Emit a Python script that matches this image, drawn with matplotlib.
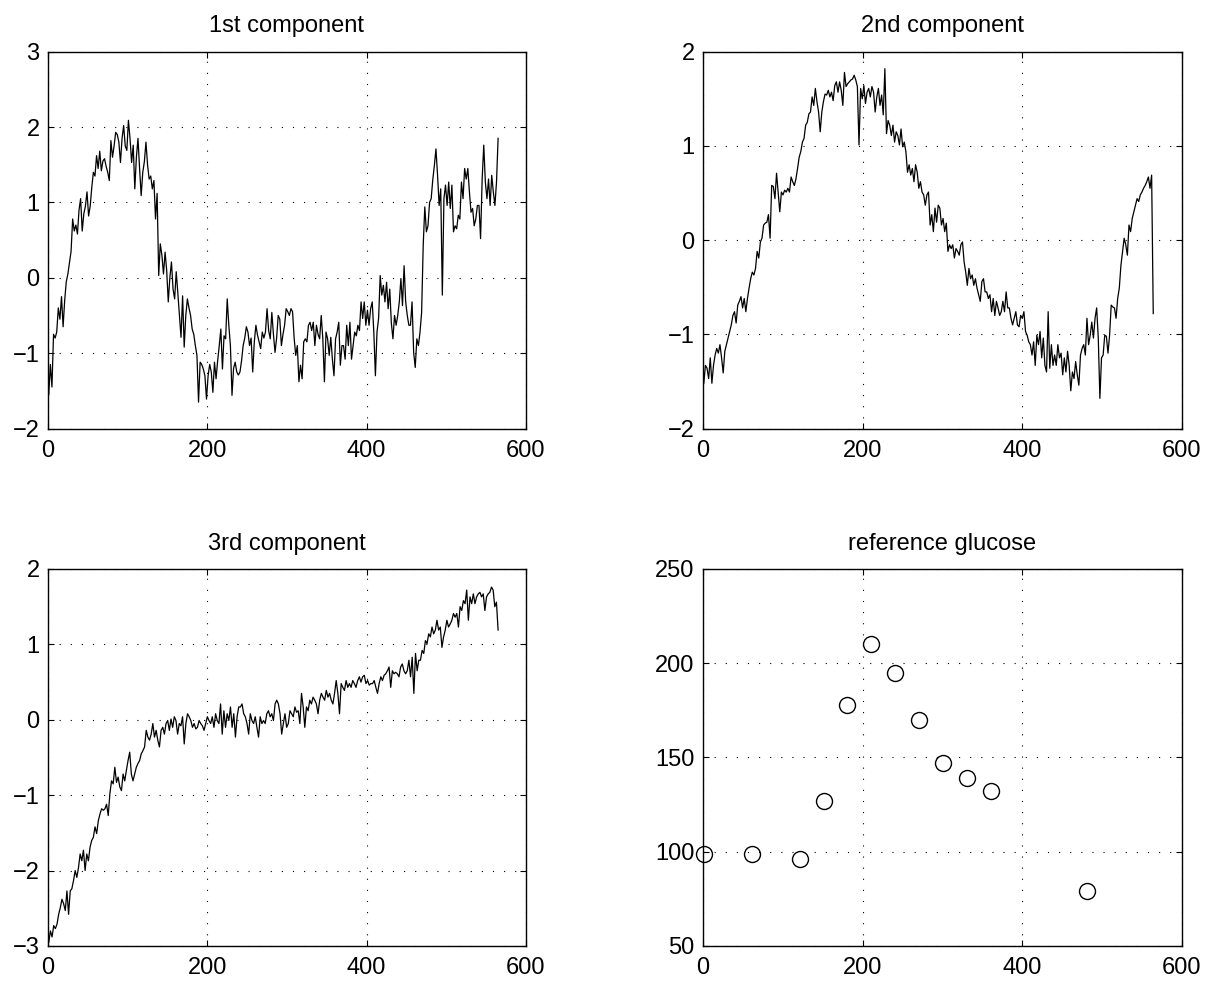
import matplotlib
matplotlib.use('Agg')
from matplotlib import pyplot as plt
import numpy as np

plt.rcParams['font.family'] = ['Liberation Sans', 'DejaVu Sans']
plt.rcParams['font.size'] = 17

# values, spread evenly over the sample index
comp1 = [-1.55, -1.15, -1.45, -0.75, -0.80, -0.72, -0.40, -0.55, -0.25, -0.65,
         -0.30, -0.05, 0.05, 0.20, 0.35, 0.78, 0.62, 0.70, 0.58, 0.90,
         1.05, 0.62, 0.85, 0.95, 1.14, 0.82, 0.95, 1.20, 1.40, 1.35,
         1.62, 1.45, 1.68, 1.42, 1.55, 1.58, 1.48, 1.40, 1.29, 1.82,
         1.60, 1.75, 1.93, 1.90, 1.80, 1.53, 1.85, 2.02, 1.75, 1.69,
         2.09, 1.85, 1.53, 1.76, 1.18, 1.60, 1.85, 1.45, 1.09, 1.40,
         1.54, 1.80, 1.50, 1.31, 1.35, 1.18, 1.29, 0.78, 1.12, 0.03,
         0.45, 0.30, 0.05, 0.34, 0.10, -0.32, 0.00, 0.21, -0.15, -0.28,
         0.08, -0.20, -0.50, -0.79, -0.24, -0.92, -0.50, -0.28, -0.40, -0.50,
         -0.68, -0.75, -0.90, -1.03, -1.65, -1.12, -1.15, -1.21, -1.30, -1.61,
         -1.30, -1.15, -1.25, -1.52, -1.12, -1.34, -1.10, -0.90, -0.68, -1.21,
         -0.77, -0.81, -0.28, -0.63, -0.90, -1.56, -1.20, -1.12, -1.25, -1.29,
         -1.25, -1.10, -0.90, -0.80, -0.65, -0.72, -0.90, -0.80, -1.25, -0.85,
         -0.63, -0.76, -0.85, -0.94, -0.72, -0.80, -0.72, -0.41, -0.70, -0.81,
         -0.46, -0.75, -0.99, -0.80, -0.50, -0.55,
         -0.90, -0.75, -0.63, -0.41, -0.45, -0.50, -0.41, -0.45, -0.80, -1.03,
         -0.90, -1.38, -1.16, -1.34, -0.85, -0.81, -0.85, -0.63, -0.59, -0.70,
         -0.59, -0.90, -0.63, -0.75, -0.81, -0.50, -0.81, -1.38, -0.72, -0.81,
         -1.03, -0.79, -1.08, -1.30, -0.81, -0.72, -0.59, -1.16, -0.90, -0.90,
         -1.08, -0.63, -0.90, -0.59, -1.08, -0.90, -0.72, -0.77, -0.63, -0.70,
         -0.32, -0.54, -0.32, -0.63, -0.43, -0.63, -0.41, -0.32, -0.72, -1.30,
         -0.72, -0.54, 0.03, -0.23, -0.10, -0.32, -0.06, -0.41, -0.15, -0.60,
         -0.81, -0.50, -0.63, -0.50, -0.32, -0.01, -0.37, 0.16, -0.32, -0.50,
         -0.63, -0.63, -0.32, -0.99, -1.19, -0.81, -0.90, -0.72, -0.46, 0.43,
         0.94, 0.61, 0.69, 1.00, 1.05, 1.30, 1.49, 1.71, 1.36, 0.96,
         1.18, -0.23, 1.05, 1.23, 0.96, 1.27, 0.92, 1.23, 0.61, 0.69,
         0.65, 0.83, 0.78, 1.27, 1.05, 1.45, 1.31, 1.45, 1.14, 0.87,
         0.92, 0.69, 0.78, 0.96, 0.96, 0.52, 1.31, 1.76, 1.27, 1.05,
         1.31, 0.96, 1.36, 1.14, 0.96, 1.27, 1.85]

comp2 = [-1.52, -1.33, -1.36, -1.47, -1.25, -1.52, -1.33, -1.22, -1.15, -1.20,
         -1.11, -1.25, -1.41, -1.18, -1.11, -1.04, -0.97, -0.90, -0.80, -0.76,
         -0.88, -0.69, -0.65, -0.60, -0.72, -0.62, -0.76, -0.62, -0.51, -0.41,
         -0.34, -0.37, -0.30, -0.12, -0.19, -0.02, 0.02, 0.16, 0.18, 0.19,
         0.27, 0.02, 0.58, 0.57, 0.44, 0.71, 0.51, 0.30, 0.51, 0.48,
         0.53, 0.51, 0.55, 0.51, 0.67, 0.62, 0.58, 0.65, 0.76, 0.88,
         0.94, 1.04, 1.08, 1.22, 1.25, 1.34, 1.36, 1.52, 1.43, 1.61,
         1.47, 1.36, 1.15, 1.36, 1.47, 1.55, 1.54, 1.59, 1.52, 1.57,
         1.48, 1.64, 1.68, 1.57, 1.68, 1.59, 1.43, 1.78, 1.63, 1.66,
         1.68, 1.70, 1.71, 1.75, 1.70, 1.63, 1.01, 1.61, 1.50, 1.64,
         1.45, 1.57, 1.61, 1.52, 1.63, 1.57, 1.36, 1.52, 1.61, 1.43,
         1.54, 1.33, 1.82, 1.13, 1.27, 1.22, 1.11, 1.22, 1.04, 1.15,
         1.11, 1.01, 1.18, 0.99, 1.04, 0.94, 0.72, 0.80, 0.69, 0.76,
         0.62, 0.80, 0.72, 0.55, 0.62, 0.51, 0.48, 0.37, 0.48, 0.51,
         0.16, 0.27, 0.09, 0.34, 0.19, 0.37, 0.34, 0.16, 0.23, 0.09,
         0.18, -0.12, -0.05,
         -0.09, -0.05, -0.19, -0.09, -0.12, -0.16, -0.05, -0.02, -0.23, -0.34,
         -0.48, -0.30, -0.41, -0.37, -0.48, -0.41, -0.51, -0.58, -0.65, -0.44,
         -0.41, -0.55, -0.55, -0.62, -0.58, -0.76, -0.62, -0.80, -0.65, -0.72,
         -0.80, -0.76, -0.65, -0.76, -0.55, -0.72, -0.72, -0.83, -0.90, -0.83,
         -0.76, -0.90, -0.92, -0.80, -0.83, -0.76, -0.97, -1.01, -1.08, -1.11,
         -1.22, -1.08, -1.33, -1.01, -1.11, -0.97, -1.25, -1.04, -1.33, -1.40,
         -0.76, -1.36, -1.11, -1.33, -1.22, -1.33, -1.11, -1.25, -1.20, -1.43,
         -1.25, -1.40, -1.18, -1.33, -1.60, -1.40, -1.47, -1.29, -1.43, -1.54,
         -1.22, -1.15, -1.11, -1.22, -0.83, -1.11, -1.01, -0.87, -1.04, -0.83,
         -0.72, -1.04, -1.68, -1.25, -1.22, -1.01, -1.02, -1.20, -1.01, -0.69,
         -0.71, -0.72, -0.83, -0.62, -0.51, -0.27, -0.12, 0.02, -0.05, -0.16,
         0.16, 0.09, 0.23, 0.30, 0.37, 0.44, 0.41, 0.48, 0.51, 0.55,
         0.58, 0.62, 0.67, 0.55, 0.69, -0.78]

comp3 = [-2.95, -2.80, -2.88, -2.73, -2.77, -2.71, -2.58, -2.49, -2.38, -2.44,
         -2.53, -2.27, -2.58, -2.27, -2.24, -2.13, -2.00, -2.09, -1.96, -1.78,
         -1.87, -1.73, -2.00, -1.78, -1.87, -1.69, -1.60, -1.56, -1.42, -1.51,
         -1.34, -1.25, -1.18, -1.20, -1.18, -1.12, -1.27, -0.98, -0.81, -0.85,
         -0.63, -0.83, -0.76, -0.89, -0.94, -0.72, -0.81, -0.67, -0.54, -0.43,
         -0.72, -0.81, -0.72, -0.63, -0.58, -0.54, -0.45, -0.41, -0.36, -0.14,
         -0.23, -0.27, -0.19, -0.05, -0.23, -0.14, -0.27, -0.36, -0.14, -0.10,
         -0.19, -0.05, -0.01, -0.14, 0.01, -0.10, 0.04, -0.01, -0.19, -0.05,
         -0.08, 0.04, -0.32, -0.05, 0.08, 0.04, -0.01, -0.10, -0.05, -0.12,
         -0.10, -0.01, -0.05, -0.08, -0.14, -0.05, 0.04, -0.01, -0.05, 0.04,
         -0.10, 0.08, -0.01, -0.05, 0.21, -0.19, 0.12, -0.10, 0.08, -0.01,
         0.17, -0.10, 0.08, -0.23, 0.04, 0.17, 0.17, 0.21, 0.08, 0.04,
         -0.05, -0.19, 0.08, -0.01, -0.05, 0.04, -0.10, -0.23, 0.04, -0.05,
         -0.01, -0.05, 0.08, 0.12, 0.04, 0.08, -0.01, 0.21, 0.26, 0.21,
         0.08, -0.19, -0.05, 0.08, -0.10, -0.05,
         0.12, 0.08, 0.04, 0.17, 0.10, 0.12, -0.05, 0.35, 0.17, -0.10,
         0.17, 0.12, 0.26, 0.21, 0.30, 0.26, 0.21, 0.08, 0.26, 0.35,
         0.30, 0.26, 0.39, 0.30, 0.35, 0.26, 0.21, 0.35, 0.52, 0.35,
         0.08, 0.48, 0.43, 0.39, 0.52, 0.43, 0.48, 0.43, 0.52, 0.48,
         0.43, 0.52, 0.57, 0.50, 0.57, 0.59, 0.48, 0.52, 0.46, 0.48,
         0.48, 0.52, 0.43, 0.35, 0.48, 0.57, 0.52, 0.59, 0.61, 0.65,
         0.70, 0.43, 0.65, 0.61, 0.63, 0.61, 0.57, 0.70, 0.74, 0.65,
         0.61, 0.65, 0.79, 0.57, 0.83, 0.35, 0.88, 0.65, 0.79, 0.79,
         0.92, 0.88, 1.05, 1.01, 1.14, 1.10, 1.23, 1.14, 1.19, 1.32,
         1.19, 1.23, 0.96, 1.10, 1.19, 1.32, 1.23, 1.27, 1.32, 1.41,
         1.36, 1.41, 1.23, 1.50, 1.45, 1.58, 1.54, 1.72, 1.32, 1.63,
         1.54, 1.67, 1.54, 1.63, 1.67, 1.69, 1.63, 1.67, 1.45, 1.63,
         1.67, 1.69, 1.76, 1.72, 1.50, 1.56, 1.19]

glucose_t = [1, 61, 121, 151, 181, 211, 241, 271, 301, 331, 361, 481]
glucose = [99, 99, 96, 127, 178, 210, 195, 170, 147, 139, 132, 79]

t1 = np.linspace(1, 565, len(comp1))
t2 = np.linspace(1, 564, len(comp2))
t3 = np.linspace(1, 565, len(comp3))

fig = plt.figure(figsize=(12.05, 9.81), dpi=100)
positions = [[0.0398, 0.5632, 0.3967, 0.3841],
             [0.5834, 0.5632, 0.3975, 0.3841],
             [0.0398, 0.0357, 0.3967, 0.3843],
             [0.5834, 0.0357, 0.3975, 0.3843]]
axs = [fig.add_axes(p) for p in positions]

def style(ax, title, ylim, yticks):
    ax.set_xlim(0, 600)
    ax.set_xticks([0, 200, 400, 600])
    ax.set_ylim(*ylim)
    ax.set_yticks(yticks)
    ax.set_title(title, fontsize=17, pad=14)
    ax.grid(True, color='black', linestyle=(0, (1, 9)), linewidth=0.8)
    ax.tick_params(direction='in', top=True, right=True, length=4, width=0.8)
    ax.tick_params(axis='x', pad=8)
    ax.tick_params(axis='y', pad=6)
    for sp in ax.spines.values():
        sp.set_linewidth(1.0)

axs[0].plot(t1, comp1, color='black', linewidth=0.9)
style(axs[0], '1st component', (-2, 3), [-2, -1, 0, 1, 2, 3])

axs[1].plot(t2, comp2, color='black', linewidth=0.9)
style(axs[1], '2nd component', (-2, 2), [-2, -1, 0, 1, 2])

axs[2].plot(t3, comp3, color='black', linewidth=0.9)
style(axs[2], '3rd component', (-3, 2), [-3, -2, -1, 0, 1, 2])

axs[3].plot(glucose_t, glucose, 'o', markersize=11.5, markerfacecolor='none',
            markeredgecolor='black', markeredgewidth=1.0, clip_on=False)
style(axs[3], 'reference glucose', (50, 250), [50, 100, 150, 200, 250])

plt.savefig('out.png', dpi=100)
